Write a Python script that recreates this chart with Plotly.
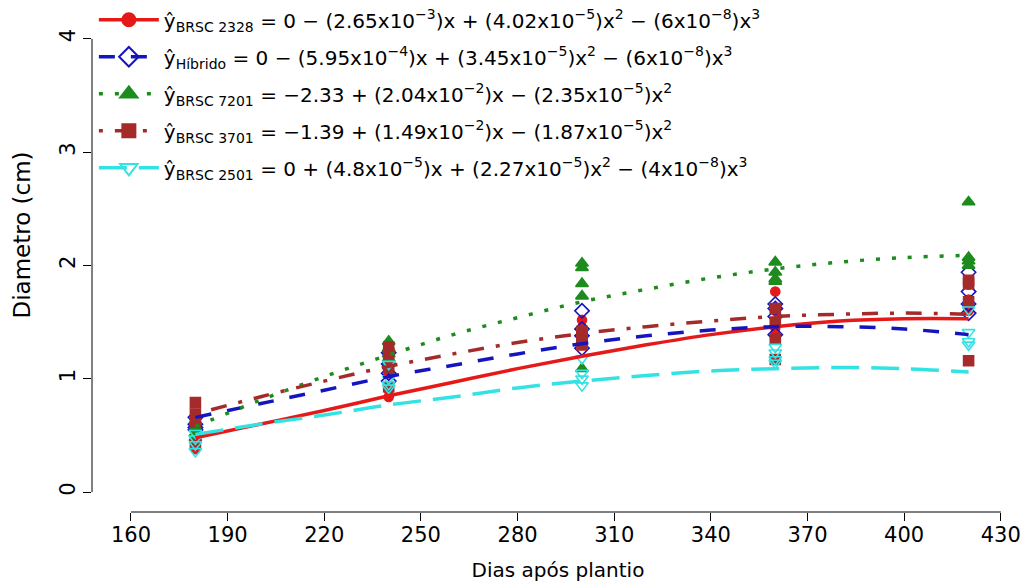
import plotly.graph_objects as go

# ---------------- data ----------------
names = ["BRSC 2328", "Híbrido", "BRSC 7201", "BRSC 3701", "BRSC 2501"]
colors = ["#E61919", "#1515C0", "#1E8B1E", "#A52A2A", "#33E3E3"]

equations = [
    "ŷ<sub>BRSC 2328</sub> = 0 − (2.65x10<sup>−3</sup>)x + (4.02x10<sup>−5</sup>)x<sup>2</sup> − (6x10<sup>−8</sup>)x<sup>3</sup>",
    "ŷ<sub>Híbrido</sub> = 0 − (5.95x10<sup>−4</sup>)x + (3.45x10<sup>−5</sup>)x<sup>2</sup> − (6x10<sup>−8</sup>)x<sup>3</sup>",
    "ŷ<sub>BRSC 7201</sub> = −2.33 + (2.04x10<sup>−2</sup>)x − (2.35x10<sup>−5</sup>)x<sup>2</sup>",
    "ŷ<sub>BRSC 3701</sub> = −1.39 + (1.49x10<sup>−2</sup>)x − (1.87x10<sup>−5</sup>)x<sup>2</sup>",
    "ŷ<sub>BRSC 2501</sub> = 0 + (4.8x10<sup>−5</sup>)x + (2.27x10<sup>−5</sup>)x<sup>2</sup> − (4x10<sup>−8</sup>)x<sup>3</sup>",
]
x_title = "Dias após plantio"
y_title = "Diametro (cm)"

# observed points (days, diameter cm)
obs_x_2328 = [180]*4 + [240]*4 + [300]*4 + [360]*4 + [420]*4
obs_y_2328 = [0.48, 0.45, 0.41, 0.38, 0.84, 0.90, 1.05, 1.20, 1.52, 1.45, 1.38, 1.33,
              1.77, 1.60, 1.45, 1.38, 1.83, 1.66, 1.60, 1.70]
obs_x_hib = [180]*4 + [240]*4 + [300]*4 + [360]*4 + [420]*4
obs_y_hib = [0.66, 0.60, 0.57, 0.55, 1.23, 1.13, 1.05, 0.98, 1.60, 1.44, 1.38, 1.27,
             1.66, 1.62, 1.55, 1.39, 1.94, 1.77, 1.66, 1.58]
obs_x_7201 = [180]*4 + [240]*4 + [300]*5 + [360]*4 + [420]*4
obs_y_7201 = [0.63, 0.57, 0.52, 0.48, 1.33, 1.27, 1.22, 1.18, 2.02, 1.98, 1.84, 1.73, 1.09,
              2.03, 1.94, 1.88, 1.86, 2.56, 2.07, 2.04, 2.00]
obs_x_3701 = [180]*4 + [240]*4 + [300]*4 + [360]*4 + [420]*4
obs_y_3701 = [0.79, 0.69, 0.62, 0.42, 1.28, 1.22, 1.10, 0.93, 1.42, 1.38, 1.33, 1.30,
              1.62, 1.50, 1.35, 1.17, 1.87, 1.84, 1.68, 1.16]
obs_x_2501 = [180]*4 + [240]*4 + [300]*4 + [360]*4 + [420]*4
obs_y_2501 = [0.52, 0.47, 0.42, 0.36, 1.13, 1.00, 0.95, 0.92, 1.18, 1.05, 1.00, 0.94,
              1.28, 1.23, 1.17, 1.14, 1.61, 1.41, 1.33, 1.30]

# fitted curves
curve_x = [180, 200, 220, 240, 260, 280, 300, 320, 340, 360, 380, 400, 420]
curve_2328 = [0.48, 0.60, 0.72, 0.85, 0.97, 1.09, 1.20, 1.30, 1.39, 1.46, 1.51, 1.53, 1.53]
curve_hib = [0.66, 0.78, 0.90, 1.02, 1.12, 1.22, 1.31, 1.38, 1.43, 1.46, 1.46, 1.44, 1.39]
curve_7201 = [0.58, 0.81, 1.02, 1.21, 1.39, 1.54, 1.68, 1.79, 1.89, 1.97, 2.03, 2.07, 2.09]
curve_3701 = [0.69, 0.84, 0.98, 1.11, 1.22, 1.32, 1.40, 1.46, 1.51, 1.55, 1.57, 1.58, 1.57]
curve_2501 = [0.51, 0.60, 0.68, 0.77, 0.84, 0.92, 0.98, 1.03, 1.07, 1.09, 1.10, 1.09, 1.06]

x_ticks = [160, 190, 220, 250, 280, 310, 340, 370, 400, 430]
y_ticks = [0, 1, 2, 3, 4]

obs_x = [obs_x_2328, obs_x_hib, obs_x_7201, obs_x_3701, obs_x_2501]
obs_y = [obs_y_2328, obs_y_hib, obs_y_7201, obs_y_3701, obs_y_2501]
curves = [curve_2328, curve_hib, curve_7201, curve_3701, curve_2501]

# ---------------- styles ----------------
symbols = ["circle", "diamond-open", "triangle-up", "square", "triangle-down-open"]
msizes = [9, 11, 11, 10, 11]
leg_msizes = [13, 15, 15, 13, 15]
dashes = ["solid", "16px,16px", "4px,12px", "4px,12px,16px,12px", "28px,12px"]
FONT = "DejaVu Sans, Liberation Sans, Arial, sans-serif"

fig = go.Figure()

for i in range(5):
    fig.add_trace(go.Scatter(
        x=obs_x[i], y=obs_y[i], mode="markers", showlegend=False,
        marker=dict(symbol=symbols[i], size=msizes[i], color=colors[i],
                    line=dict(color=colors[i], width=1.6)),
        name=names[i]))

for i in range(5):
    fig.add_trace(go.Scatter(
        x=curve_x, y=curves[i], mode="lines", showlegend=False,
        line=dict(color=colors[i], width=3.5, dash=dashes[i], shape="spline"),
        name=names[i]))

for i in range(5):
    fig.add_trace(go.Scatter(
        x=[None], y=[None], mode="lines+markers", name=equations[i],
        legendgroup="g%d" % i, showlegend=True,
        marker=dict(symbol=symbols[i], size=leg_msizes[i], color=colors[i],
                    line=dict(color=colors[i], width=2)),
        line=dict(color=colors[i], width=3.5, dash=dashes[i])))

# R-style axis lines spanning only the tick range
fig.add_shape(type="line", xref="x", yref="paper", x0=x_ticks[0], x1=x_ticks[-1],
              y0=0, y1=0, line=dict(color="black", width=1))
fig.add_shape(type="line", xref="paper", yref="y", x0=0, x1=0,
              y0=y_ticks[0], y1=y_ticks[-1], line=dict(color="black", width=1))

fig.add_annotation(text=y_title, xref="paper", yref="paper", x=-0.075, y=0.561,
                   textangle=-90, showarrow=False, font=dict(size=23),
                   xanchor="center", yanchor="middle")

fig.update_layout(
    width=1024, height=583,
    margin=dict(l=92, r=0, t=15, b=71),
    paper_bgcolor="white", plot_bgcolor="white",
    font=dict(family=FONT, color="black", size=20),
    xaxis=dict(range=[147.9, 437.2], tickvals=x_ticks, ticks="outside", ticklen=8,
               tickcolor="black", showline=False, showgrid=False, zeroline=False,
               automargin=False, tickfont=dict(size=21), ticklabelstandoff=-4,
               title=dict(text=x_title, font=dict(size=20), standoff=16)),
    yaxis=dict(range=[-0.175, 4.175], tickvals=y_ticks, ticks="outside", ticklen=8,
               tickcolor="black", showline=False, showgrid=False, zeroline=False,
               automargin=False, tickangle=-90, tickfont=dict(size=21)),
    legend=dict(x=0.002, y=1.038, xanchor="left", yanchor="top",
                bgcolor="rgba(0,0,0,0)", borderwidth=0,
                font=dict(size=20, family=FONT), tracegroupgap=8,
                traceorder="grouped", itemwidth=60),
)

fig.write_html("out.html", post_script="document.body.style.margin='0px';",
               config={"displayModeBar": False})
